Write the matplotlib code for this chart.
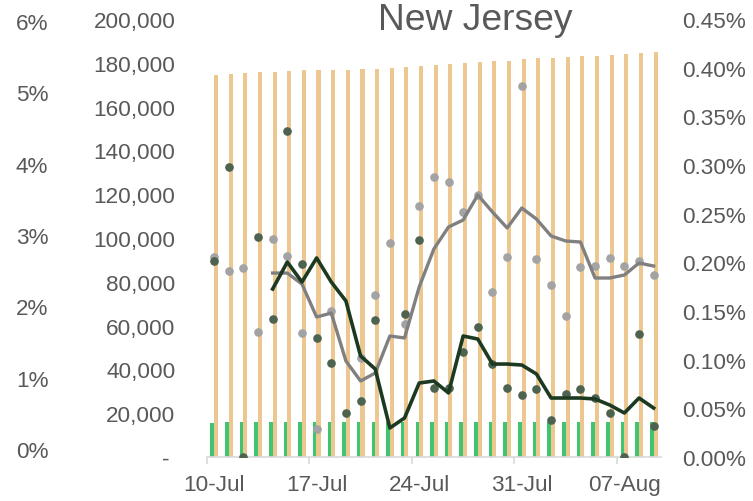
import matplotlib
matplotlib.use("Agg")
import matplotlib.pyplot as plt
import numpy as np
from matplotlib.ticker import FixedLocator, FuncFormatter

plt.rcParams['font.family'] = ['Liberation Sans', 'DejaVu Sans']

# ---------------- data ----------------
dates = ["10-Jul", "11-Jul", "12-Jul", "13-Jul", "14-Jul", "15-Jul", "16-Jul",
         "17-Jul", "18-Jul", "19-Jul", "20-Jul", "21-Jul", "22-Jul", "23-Jul",
         "24-Jul", "25-Jul", "26-Jul", "27-Jul", "28-Jul", "29-Jul", "30-Jul",
         "31-Jul", "01-Aug", "02-Aug", "03-Aug", "04-Aug", "05-Aug", "06-Aug",
         "07-Aug", "08-Aug", "09-Aug"]
tick_labels = ["10-Jul", "17-Jul", "24-Jul", "31-Jul", "07-Aug"]

cases_total = [174600, 174900, 175300, 175700, 175900, 176300, 176600, 176700,
               176800, 176900, 177000, 177300, 177600, 177900, 178400, 178900,
               179300, 179800, 180200, 180700, 181000, 181600, 182100, 182300,
               182600, 183000, 183200, 183600, 183900, 184300, 184800]
deaths_total = [15750, 15760, 15770, 15780, 15790, 15800, 15800, 15810, 15810,
                15820, 15820, 15830, 15830, 15840, 15840, 15850, 15850, 15860,
                15860, 15860, 15870, 15870, 15870, 15880, 15880, 15880, 15890,
                15890, 15890, 15900, 15900]

# daily growth rates (%)
case_rate = [0.2055, 0.1911, 0.1942, 0.1284, 0.2240, 0.2065, 0.1274, 0.0288,
             0.1500, np.nan, 0.1017, 0.1664, 0.2199, 0.1366, 0.2579, 0.2877,
             0.2825, 0.2517, 0.2692, 0.1695, 0.2055, 0.3812, 0.2034, 0.1767,
             0.1449, 0.1952, 0.1962, 0.2045, 0.1962, 0.2014, 0.1870]
death_rate = [0.2014, 0.2979, 0.0, 0.2260, 0.1418, 0.3349, 0.1983, 0.1223,
              0.0966, 0.0452, 0.0575, 0.1408, np.nan, 0.1469, 0.2229, 0.0709,
              0.0709, 0.1079, 0.1336, 0.0955, 0.0709, 0.0637, 0.0699, 0.0380,
              0.0647, 0.0699, 0.0606, 0.0452, 0.0, 0.1264, 0.0318]

case_rate_avg = [np.nan, np.nan, np.nan, np.nan, 0.1890, 0.1890, 0.1777, 0.1438,
                 0.1479, 0.0986, 0.0781, 0.0863, 0.1243, 0.1223, 0.1747, 0.2137,
                 0.2363, 0.2435, 0.2692, 0.2517, 0.2353, 0.2558, 0.2445, 0.2271,
                 0.2219, 0.2209, 0.1839, 0.1839, 0.1870, 0.1993, 0.1962]
death_rate_avg = [np.nan, np.nan, np.nan, np.nan, 0.1726, 0.2003, 0.1798, 0.2045,
                  0.1798, 0.1603, 0.1038, 0.0904, 0.0298, 0.0401, 0.0760, 0.0781,
                  0.0658, 0.1243, 0.1212, 0.0955, 0.0955, 0.0945, 0.0853, 0.0606,
                  0.0606, 0.0606, 0.0596, 0.0534, 0.0452, 0.0606, 0.0503]

# ---------------- figure ----------------
W, H = 753, 502
fig = plt.figure(figsize=(W / 100, H / 100), dpi=100)
x0, x1 = 206.7, 661.0
ytop, ybot = 20.0, 458.0
pos = [x0 / W, (H - ybot) / H, (x1 - x0) / W, (ybot - ytop) / H]

txt = '#595959'
fs = 16.2

ax = fig.add_axes(pos)
ax2 = ax.twinx()
ax3 = ax.twinx()

x = np.arange(len(dates))

ax.bar(x + 0.13, cases_total, width=0.28, color='#ecc890', zorder=2)
ax.bar(x - 0.13, deaths_total, width=0.24, color='#3fc46f', zorder=2)
ax.set_xlim(-0.5, len(dates) - 0.5)
ax.set_ylim(0, 200000)

ax2.plot(x, case_rate, 'o', color='#a3a3a3', ms=5.2, zorder=3)
ax2.plot(x, death_rate, 'o', color='#4d624f', ms=5.2, zorder=3)
ax2.plot(x, case_rate_avg, '-', color='#808080', lw=2.4, zorder=4)
ax2.plot(x, death_rate_avg, '-', color='#1c3a22', lw=2.6, zorder=5)
ax2.set_ylim(0, 0.45)

# leftmost 0-6% axis (0% at y=450px, 6% at y=22px)
per = 0.06 / (450 - 22)
ax3.set_ylim(-(ybot - 450) * per, 0.06 + (22 - ytop) * per)

for a in (ax, ax2, ax3):
    for s in a.spines.values():
        s.set_visible(False)
ax.spines['bottom'].set_visible(True)
ax.spines['bottom'].set_color('#d9d9d9')
ax.spines['bottom'].set_linewidth(1.2)

# left axis
ax.yaxis.set_major_locator(FixedLocator(np.arange(0, 200001, 20000)))
ax.yaxis.set_major_formatter(FuncFormatter(lambda v, p: "- " if v == 0 else f"{int(v):,}"))
ax.tick_params(axis='y', length=0, pad=22.5, labelsize=fs, labelcolor=txt)

# x axis: labels at category centres, tick marks at boundaries
tick_idx = [0, 7, 14, 21, 28]
ax.set_xticks(tick_idx)
ax.set_xticklabels(tick_labels)
ax.tick_params(axis='x', which='major', length=0, pad=12, labelsize=fs, labelcolor=txt)
ax.set_xticks([i - 0.5 for i in tick_idx], minor=True)
ax.tick_params(axis='x', which='minor', length=5, width=1.2, color='#d9d9d9')

# right axis
ax2.yaxis.set_major_locator(FixedLocator(np.arange(0, 0.451, 0.05)))
ax2.yaxis.set_major_formatter(FuncFormatter(lambda v, p: f"{v:.2f}%"))
ax2.tick_params(axis='y', length=0, pad=15, labelsize=fs, labelcolor=txt)

# leftmost axis
ax3.yaxis.tick_left()
ax3.yaxis.set_label_position('left')
ax3.yaxis.set_major_locator(FixedLocator(np.arange(0, 0.0601, 0.01)))
ax3.yaxis.set_major_formatter(FuncFormatter(lambda v, p: f"{v*100:.0f}%"))
ax3.tick_params(axis='y', length=0, pad=114, labelsize=fs, labelcolor=txt)
ax3.tick_params(axis='y', which='both', right=False, labelright=False)

fig.text(475.5 / W, 1 - 20 / H, "New Jersey", ha='center', va='center',
         fontsize=26.8, color=txt)

fig.savefig("out.png", dpi=100)
